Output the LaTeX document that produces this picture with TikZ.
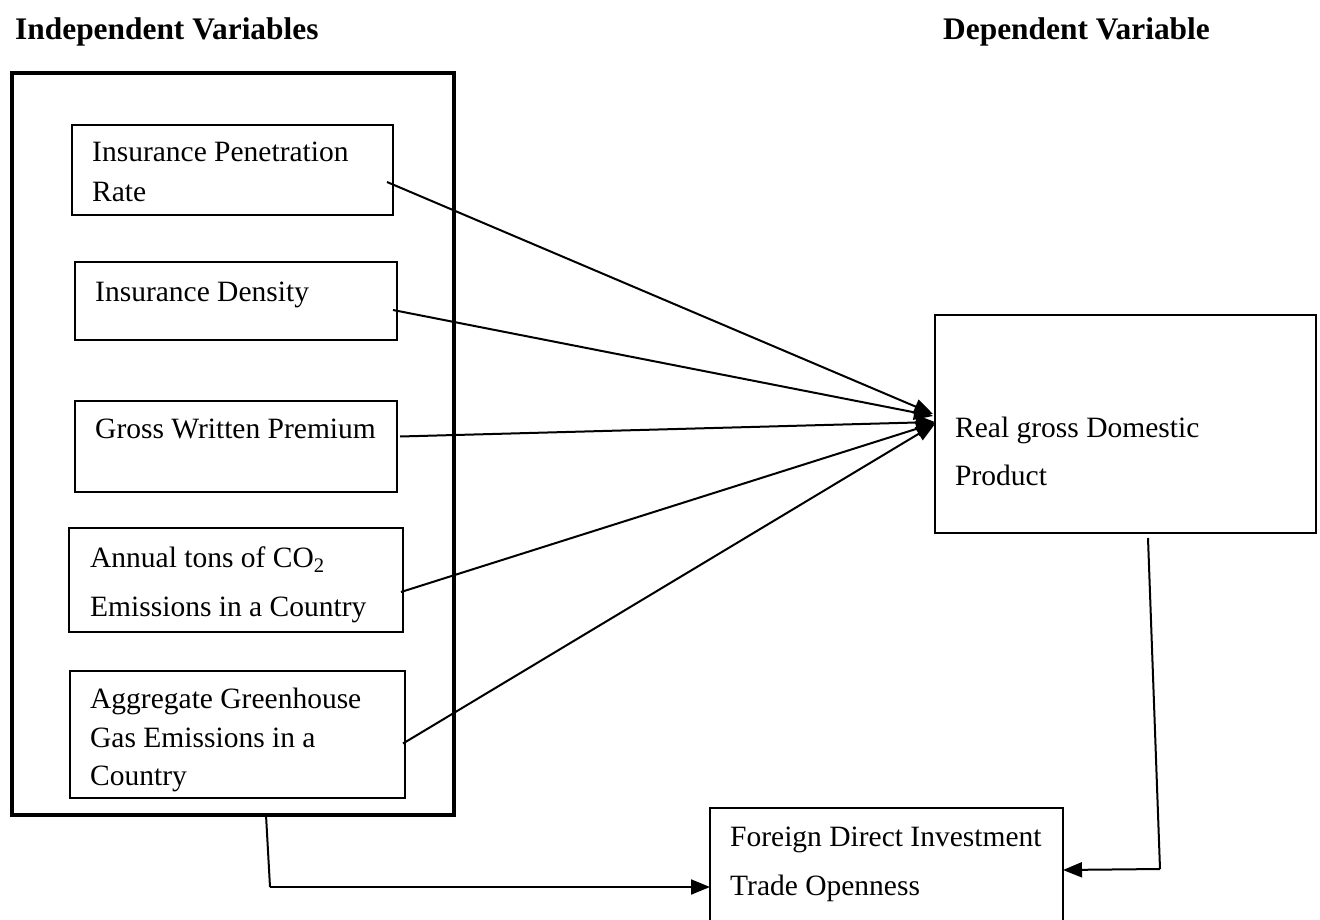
\documentclass[tikz,border=0pt]{standalone}
\usepackage{fontspec}
\setmainfont{Liberation Serif}
\usetikzlibrary{arrows.meta}
\tikzset{
  bx/.style={draw=black, line width=1.5pt, inner sep=0pt, outer sep=0pt, fill=none},
  bigbx/.style={draw=black, line width=4pt, inner sep=0pt, outer sep=0pt},
  txt/.style={anchor=base west, inner sep=0pt, font=\fontsize{29.5}{36}\selectfont},
  hdr/.style={anchor=base west, inner sep=0pt, font=\fontsize{31.4}{38}\selectfont\bfseries},
  conn/.style={draw=black, line width=2pt, -{Triangle[length=19pt,width=15pt]}},
  plain/.style={draw=black, line width=2pt}
}
\begin{document}
\begin{tikzpicture}[x=1pt,y=-1pt]
\useasboundingbox[fill=white] (0,0) rectangle (1320,920);
% headers
\node[hdr] (hind) at (15,40) {Independent Variables};
\node[hdr] (hdep) at (943,40) {Dependent Variable};
% big box
\node[bigbx, minimum width=442pt, minimum height=742pt] (ind) at (233,444) {};
% inner boxes
\node[bx, minimum width=321pt, minimum height=90pt] (b1) at (232.5,170) {};
\node[bx, minimum width=322pt, minimum height=78pt] (b2) at (236,301) {};
\node[bx, minimum width=322pt, minimum height=91pt] (b3) at (236,446.5) {};
\node[bx, minimum width=334pt, minimum height=104pt] (b4) at (236,580) {};
\node[bx, minimum width=335pt, minimum height=127pt] (b5) at (237.5,734.5) {};
\node[bx, minimum width=381pt, minimum height=218pt] (rgdp) at (1125.5,424) {};
\node[bx, minimum width=353pt, minimum height=124pt] (fdi) at (886.5,870) {};
% texts
\node[txt] (t1a) at (92,162) {Insurance Penetration};
\node[txt] (t1b) at (92,202) {Rate};
\node[txt] (t2) at (95,301) {Insurance Density};
\node[txt] (t3) at (95,438) {Gross Written Premium};
\node[txt] (t4a) at (90,567) {Annual tons of CO\textsubscript{2}};
\node[txt] (t4b) at (90,616) {Emissions in a Country};
\node[txt] (t5a) at (90,708) {Aggregate Greenhouse};
\node[txt] (t5b) at (90,747) {Gas Emissions in a};
\node[txt] (t5c) at (90,785) {Country};
\node[txt] (tra) at (955,437) {Real gross Domestic};
\node[txt] (trb) at (955,485) {Product};
\node[txt] (tfa) at (730,846) {Foreign Direct Investment};
\node[txt] (tfb) at (730,895) {Trade Openness};
% connectors to dependent variable
\draw[conn] ([xshift=-6pt,yshift=-12pt]b1.east) -- ([xshift=-2pt,yshift=10pt]rgdp.west);
\draw[conn] ([xshift=-4pt,yshift=-9pt]b2.east) -- ([xshift=-2pt,yshift=8pt]rgdp.west);
\draw[conn] ([xshift=3pt,yshift=10pt]b3.east) -- ([yshift=2pt]rgdp.west);
\draw[conn] ([xshift=-2pt,yshift=-12pt]b4.east) -- ([yshift=1pt]rgdp.west);
\draw[conn] ([xshift=-2pt,yshift=-9pt]b5.east) -- (rgdp.west);
% elbow connectors
\coordinate (bendL) at (270,887);
\coordinate (bendR) at (1160,869);
\draw[plain] ([xshift=33pt]ind.south) -- (bendL);
\draw[conn] (bendL) -- ([yshift=-17pt]fdi.west);
\draw[plain] ([xshift=22.5pt,yshift=-5pt]rgdp.south) -- (bendR);
\draw[conn] (bendR) -- (fdi.east);
\end{tikzpicture}
\end{document}
